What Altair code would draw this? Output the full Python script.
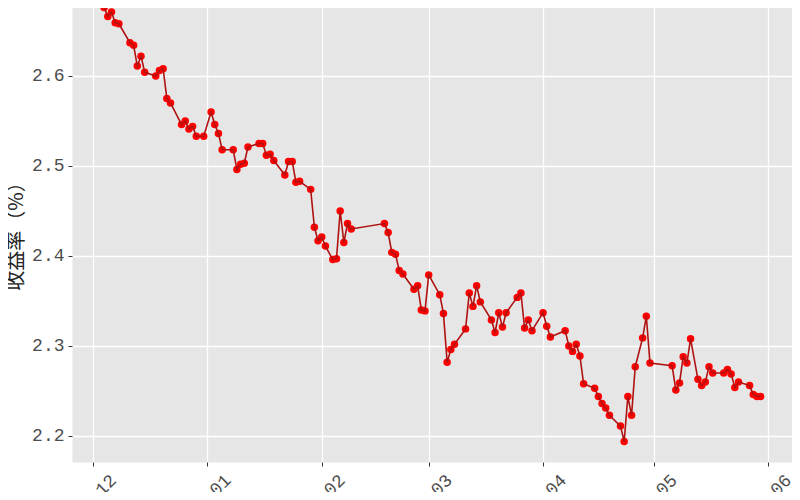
import altair as alt
import pandas as pd

dates = [
    "2023-12-04", "2023-12-05", "2023-12-06", "2023-12-07", "2023-12-08",
    "2023-12-11", "2023-12-12", "2023-12-13", "2023-12-14", "2023-12-15",
    "2023-12-18", "2023-12-19", "2023-12-20", "2023-12-21", "2023-12-22",
    "2023-12-25", "2023-12-26", "2023-12-27", "2023-12-28", "2023-12-29",
    "2023-12-31", "2024-01-02", "2024-01-03", "2024-01-04", "2024-01-05",
    "2024-01-08", "2024-01-09", "2024-01-10", "2024-01-11", "2024-01-12",
    "2024-01-15", "2024-01-16", "2024-01-17", "2024-01-18", "2024-01-19",
    "2024-01-22", "2024-01-23", "2024-01-24", "2024-01-25", "2024-01-26",
    "2024-01-29", "2024-01-30", "2024-01-31", "2024-02-01", "2024-02-02",
    "2024-02-04", "2024-02-05", "2024-02-06", "2024-02-07", "2024-02-08",
    "2024-02-09", "2024-02-18", "2024-02-19", "2024-02-20", "2024-02-21",
    "2024-02-22", "2024-02-23", "2024-02-26", "2024-02-27", "2024-02-28",
    "2024-02-29", "2024-03-01", "2024-03-04", "2024-03-05", "2024-03-06",
    "2024-03-07", "2024-03-08", "2024-03-11", "2024-03-12", "2024-03-13",
    "2024-03-14", "2024-03-15", "2024-03-18", "2024-03-19", "2024-03-20",
    "2024-03-21", "2024-03-22", "2024-03-25", "2024-03-26", "2024-03-27",
    "2024-03-28", "2024-03-29", "2024-04-01", "2024-04-02", "2024-04-03",
    "2024-04-07", "2024-04-08", "2024-04-09", "2024-04-10", "2024-04-11",
    "2024-04-12", "2024-04-15", "2024-04-16", "2024-04-17", "2024-04-18",
    "2024-04-19", "2024-04-22", "2024-04-23", "2024-04-24", "2024-04-25",
    "2024-04-26", "2024-04-28", "2024-04-29", "2024-04-30", "2024-05-06",
    "2024-05-07", "2024-05-08", "2024-05-09", "2024-05-10", "2024-05-11",
    "2024-05-13", "2024-05-14", "2024-05-15", "2024-05-16", "2024-05-17",
    "2024-05-20", "2024-05-21", "2024-05-22", "2024-05-23", "2024-05-24",
    "2024-05-27", "2024-05-28", "2024-05-29", "2024-05-30",
]

yields = [
    2.676, 2.666, 2.671, 2.659, 2.658,
    2.637, 2.634, 2.611, 2.622, 2.604,
    2.600, 2.606, 2.608, 2.575, 2.570,
    2.546, 2.550, 2.541, 2.544, 2.533,
    2.533, 2.560, 2.546, 2.536, 2.518,
    2.518, 2.496, 2.502, 2.503, 2.521,
    2.525, 2.525, 2.512, 2.513, 2.506,
    2.490, 2.505, 2.505, 2.482, 2.483,
    2.474, 2.432, 2.417, 2.421, 2.411,
    2.396, 2.397, 2.450, 2.415, 2.436,
    2.430, 2.436, 2.426, 2.404, 2.402,
    2.384, 2.380, 2.363, 2.367, 2.340,
    2.339, 2.379, 2.357, 2.336, 2.282,
    2.296, 2.302, 2.319, 2.359, 2.344,
    2.367, 2.349, 2.329, 2.315, 2.337,
    2.321, 2.337, 2.354, 2.359, 2.320,
    2.329, 2.317, 2.337, 2.322, 2.310,
    2.317, 2.300, 2.294, 2.302, 2.289,
    2.258, 2.253, 2.244, 2.236, 2.231,
    2.223, 2.211, 2.194, 2.244, 2.223,
    2.277, 2.309, 2.333, 2.281, 2.278,
    2.251, 2.259, 2.288, 2.281, 2.308,
    2.263, 2.256, 2.260, 2.277, 2.270,
    2.270, 2.274, 2.269, 2.254, 2.260,
    2.256, 2.246, 2.244, 2.244,
]

tick_months = [(2023, 12), (2024, 1), (2024, 2), (2024, 3), (2024, 4), (2024, 5), (2024, 6)]
y_ticks = [2.2, 2.3, 2.4, 2.5, 2.6]
y_title = "收益率（%）"

df = pd.DataFrame({"date": dates, "yield": yields})

x_enc = alt.X(
    "date:T",
    scale=alt.Scale(
        type="utc",
        domain=[
            alt.DateTime(year=2023, month=11, date=25, hours=7, utc=True),
            alt.DateTime(year=2024, month=6, date=7, hours=12, utc=True),
        ],
    ),
    axis=alt.Axis(
        values=[alt.DateTime(year=y, month=m, date=1, utc=True) for y, m in tick_months],
        format="%Y-%m",
        labelAngle=-45,
        labelAlign="right",
        labelBaseline="top",
        labelOverlap=False,
        labelFlush=False,
        labelOffset=14,
        labelPadding=5,
        title=None,
    ),
)

y_enc = alt.Y(
    "yield:Q",
    scale=alt.Scale(domain=[2.1711, 2.6844], nice=False, zero=False),
    axis=alt.Axis(
        values=y_ticks,
        format=".1f",
        title=y_title,
        titlePadding=5,
        labelPadding=4,
    ),
)

base = alt.Chart(df).encode(x=x_enc, y=y_enc)
points = base.mark_point(filled=True, color="#FF0000", size=56, opacity=1)
line = base.mark_line(color="#B01212", strokeWidth=1.6)

chart = (
    alt.layer(points, line)
    .properties(
        width=720,
        height=462,
        autosize=alt.AutoSizeParams(type="none"),
        padding={"left": 64, "top": -8, "right": 0, "bottom": 30},
        background="white",
    )
    .configure_view(fill="#E6E6E6", strokeOpacity=0)
    .configure_axis(
        domain=False,
        grid=True,
        gridColor="white",
        gridWidth=1.3,
        tickColor="#333333",
        tickSize=4,
        tickWidth=1,
        labelColor="#4D4D4D",
        labelFont="Liberation Mono",
        labelFontSize=18,
        titleFont="Noto Sans CJK JP",
        titleFontSize=20,
        titleFontWeight="normal",
        titleColor="#222222",
    )
)

chart.save("out.html", embed_options={"renderer": "svg", "actions": False})
